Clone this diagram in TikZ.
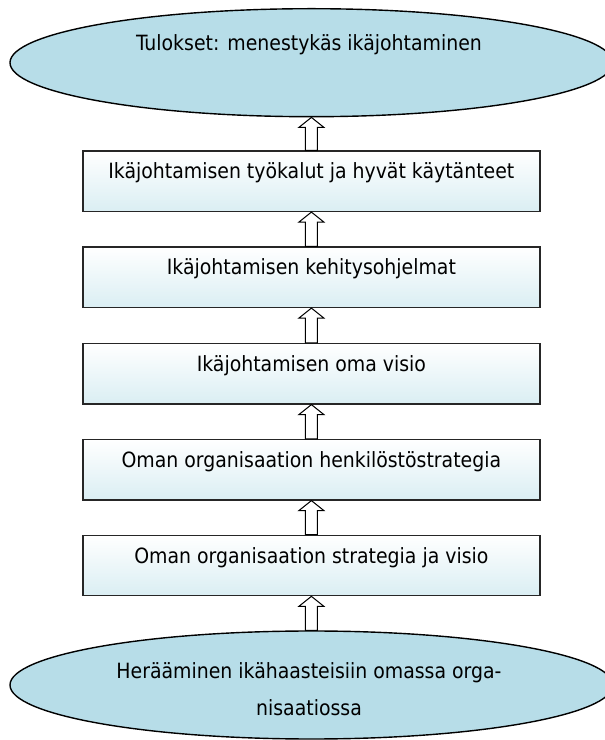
\documentclass[tikz,border=0pt]{standalone}
\usepackage{fontspec}
\setmainfont{DejaVu Sans Condensed}
\usetikzlibrary{shapes.geometric,calc}

\definecolor{ovalblue}{HTML}{B7DDE8}
\definecolor{boxblue}{HTML}{DAEEF3}
\definecolor{boxline}{HTML}{262626}

\tikzset{
  oval/.style={ellipse, draw=black, line width=1.4pt, fill=ovalblue,
    minimum width=603pt, minimum height=108pt, inner sep=0pt},
  ovaltext/.style={font=\fontsize{21}{37}\selectfont, align=center, inner sep=0pt},
  stepbox/.style={rectangle, draw=boxline, line width=1.2pt,
    top color=white, bottom color=boxblue,
    minimum width=457pt, minimum height=60.5pt, inner sep=0pt,
    text height=14pt, text depth=18.5pt,
    font=\fontsize{21}{24}\selectfont},
  hollowarrow/.style={draw=black, line width=1pt, fill=white, line join=miter}
}

% Hollow block arrow pointing up from (#1) to the tip (#2)
\newcommand\blockup[2]{%
  \draw[hollowarrow]
    ($(#1)+(-6,0)$) -- ($(#2)+(-6,-10)$) -- ($(#2)+(-12.5,-10)$) -- (#2)
    -- ($(#2)+(12.5,-10)$) -- ($(#2)+(6,-10)$) -- ($(#1)+(6,0)$) -- cycle;
}

\begin{document}
\begin{tikzpicture}[x=1pt,y=1pt]
  \useasboundingbox (0,0) rectangle (605,740);

  % goal and starting point
  \node[oval] (goal) at (311.5,677.3) {};
  \node[ovaltext] (goaltext) at (309,695) {Tulokset: menestykäs ikäjohtaminen};

  \node[oval] (start) at (311.5,55) {};
  \node[ovaltext] (starttext) at (309,50.5)
    {Herääminen ikähaasteisiin omassa orga-\\nisaatiossa};

  % steps
  \node[stepbox] (s5) at (311.4,558.75) {Ikäjohtamisen työkalut ja hyvät käytänteet};
  \node[stepbox] (s4) at (311.4,462.75) {Ikäjohtamisen kehitysohjelmat};
  \node[stepbox] (s3) at (311.4,366.25) {Ikäjohtamisen oma visio};
  \node[stepbox] (s2) at (311.4,270.25) {Oman organisaation henkilöstöstrategia};
  \node[stepbox] (s1) at (311.4,174.5) {Oman organisaation strategia ja visio};

  % upward arrows
  \blockup{start.north -| s1.south}{s1.south}
  \blockup{s1.north}{s2.south}
  \blockup{s2.north}{s3.south}
  \blockup{s3.north}{s4.south}
  \blockup{s4.north}{s5.south}
  \blockup{s5.north}{s5.north |- goal.south}
\end{tikzpicture}
\end{document}
